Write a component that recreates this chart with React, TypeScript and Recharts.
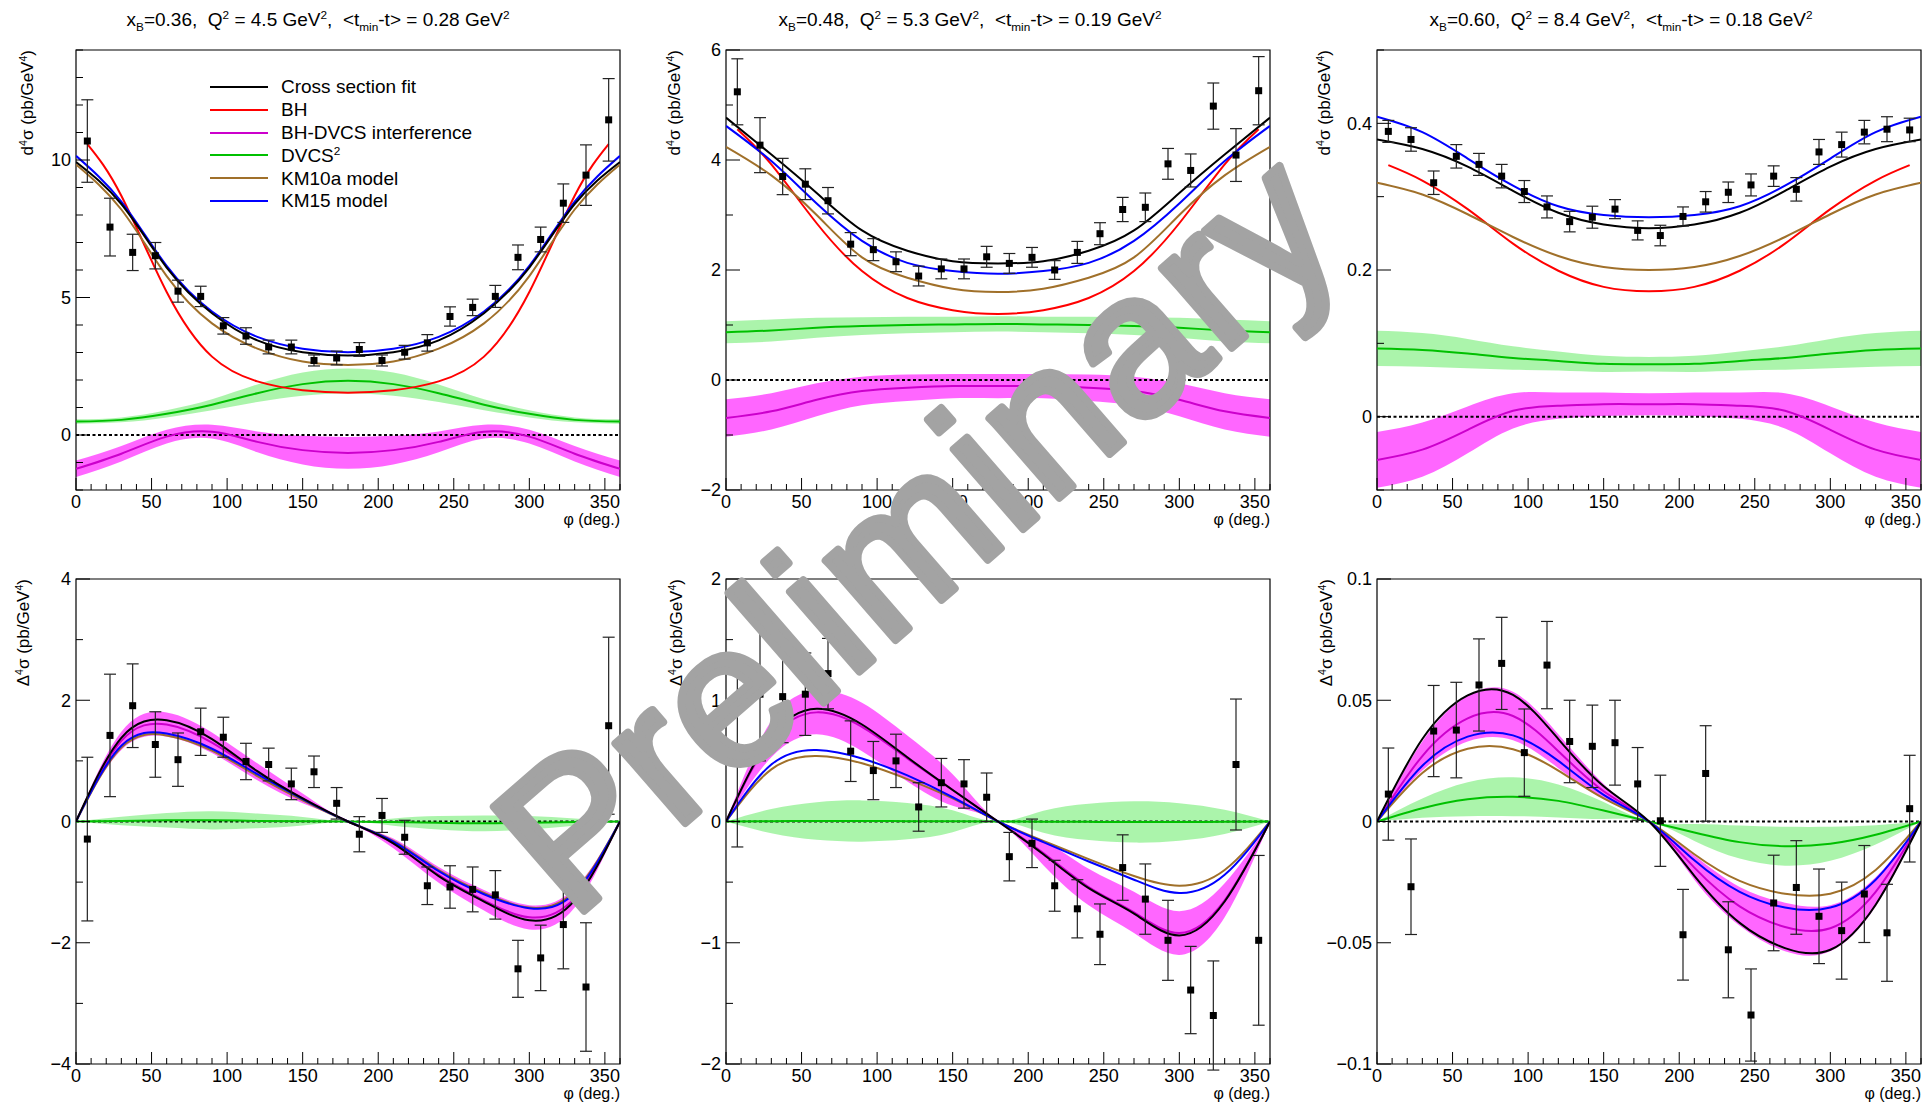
import React from "react";
import {
  ComposedChart,
  Line,
  Area,
  Scatter,
  ErrorBar,
  XAxis,
  YAxis,
  ReferenceLine,
  ReferenceArea,
} from "recharts";

const FONT = "'Liberation Sans', Arial, Helvetica, sans-serif";

// phi bin centres (deg.) of the measured points
const PHI_BINS = [
  7.5, 22.5, 37.5, 52.5, 67.5, 82.5, 97.5, 112.5, 127.5, 142.5, 157.5, 172.5,
  187.5, 202.5, 217.5, 232.5, 247.5, 262.5, 277.5, 292.5, 307.5, 322.5, 337.5, 352.5,
];
// phi values where the fit / model curves were read
const PHI_GRID = [0, 30, 60, 90, 120, 150, 180, 210, 240, 270, 300, 330, 360];
// BH only runs from the first to the last bin centre
const PHI_BH = [7.5, 30, 60, 90, 120, 150, 180, 210, 240, 270, 300, 330, 352.5];

const X_TICKS = [
  0, 10, 20, 30, 40, 50, 60, 70, 80, 90, 100, 110, 120, 130, 140, 150, 160, 170, 180,
  190, 200, 210, 220, 230, 240, 250, 260, 270, 280, 290, 300, 310, 320, 330, 340, 350, 360,
];

// ---- top row: unpolarised cross section ----
const P1_Y = [10.69, 7.56, 6.64, 6.52, 5.23, 5.04, 3.97, 3.6, 3.2, 3.2, 2.71, 2.8, 3.11, 2.71, 3.01, 3.35, 4.31, 4.64, 5.04, 6.46, 7.11, 8.43, 9.45, 11.46];
const P1_E = [1.5, 1.05, 0.66, 0.48, 0.4, 0.37, 0.3, 0.3, 0.25, 0.25, 0.2, 0.25, 0.25, 0.2, 0.25, 0.3, 0.35, 0.3, 0.4, 0.45, 0.45, 0.7, 1.1, 1.5];
const P1_FIT = [9.93, 8.4, 6.09, 4.43, 3.44, 3.01, 2.89, 3.01, 3.44, 4.43, 6.09, 8.4, 9.93];
const P1_BH = [10.58, 8.7, 5.2, 2.85, 1.95, 1.63, 1.54, 1.63, 1.95, 2.85, 5.2, 8.7, 10.58];
const P1_INT = [-1.23, -0.68, -0.06, 0.12, -0.25, -0.55, -0.65, -0.55, -0.25, 0.12, -0.06, -0.68, -1.23];
const P1_INT_ERR = [0.3, 0.28, 0.25, 0.25, 0.38, 0.52, 0.58, 0.52, 0.38, 0.25, 0.25, 0.28, 0.3];
const P1_DVCS = [0.49, 0.55, 0.77, 1.1, 1.52, 1.85, 1.97, 1.85, 1.52, 1.1, 0.77, 0.55, 0.49];
const P1_DVCS_ERR = [0.08, 0.09, 0.13, 0.2, 0.32, 0.42, 0.45, 0.42, 0.32, 0.2, 0.13, 0.09, 0.08];
const P1_KM10 = [9.84, 8.2, 5.78, 4.06, 3.14, 2.67, 2.55, 2.67, 3.14, 4.06, 5.78, 8.2, 9.84];
const P1_KM15 = [10.15, 8.49, 6.15, 4.49, 3.57, 3.14, 3.01, 3.14, 3.57, 4.49, 6.15, 8.49, 10.15];

const P2_Y = [5.24, 4.27, 3.7, 3.56, 3.26, 2.47, 2.37, 2.15, 1.89, 2.02, 2.02, 2.24, 2.12, 2.23, 2.0, 2.32, 2.66, 3.1, 3.14, 3.93, 3.81, 4.98, 4.09, 5.26];
const P2_E = [0.6, 0.5, 0.33, 0.28, 0.24, 0.21, 0.2, 0.18, 0.18, 0.18, 0.18, 0.19, 0.18, 0.18, 0.17, 0.2, 0.2, 0.22, 0.26, 0.28, 0.3, 0.42, 0.48, 0.62];
const P2_FIT = [4.77, 4.1, 3.4, 2.72, 2.35, 2.16, 2.12, 2.16, 2.35, 2.72, 3.4, 4.1, 4.77];
const P2_BH = [4.56, 3.92, 2.85, 1.98, 1.49, 1.27, 1.2, 1.27, 1.49, 1.98, 2.85, 3.92, 4.56];
const P2_INT = [-0.69, -0.57, -0.36, -0.2, -0.14, -0.11, -0.11, -0.11, -0.14, -0.2, -0.36, -0.57, -0.69];
const P2_INT_ERR = [0.34, 0.33, 0.3, 0.26, 0.24, 0.22, 0.22, 0.22, 0.24, 0.26, 0.3, 0.33, 0.34];
const P2_DVCS = [0.87, 0.9, 0.95, 0.98, 1.0, 1.01, 1.02, 1.01, 1.0, 0.98, 0.95, 0.9, 0.87];
const P2_DVCS_ERR = [0.2, 0.2, 0.18, 0.16, 0.15, 0.14, 0.14, 0.14, 0.15, 0.16, 0.18, 0.2, 0.2];
const P2_KM10 = [4.24, 3.72, 3.0, 2.23, 1.86, 1.66, 1.6, 1.66, 1.86, 2.23, 3.0, 3.72, 4.24];
const P2_KM15 = [4.62, 3.98, 3.21, 2.53, 2.13, 1.98, 1.93, 1.98, 2.13, 2.53, 3.21, 3.98, 4.62];

const P3_Y = [0.389, 0.378, 0.319, 0.355, 0.344, 0.328, 0.307, 0.286, 0.266, 0.272, 0.283, 0.254, 0.247, 0.273, 0.293, 0.306, 0.316, 0.328, 0.31, 0.361, 0.371, 0.388, 0.392, 0.391];
const P3_E = [0.015, 0.016, 0.016, 0.016, 0.015, 0.016, 0.015, 0.015, 0.014, 0.015, 0.013, 0.013, 0.014, 0.013, 0.014, 0.014, 0.015, 0.014, 0.016, 0.017, 0.017, 0.016, 0.017, 0.016];
const P3_FIT = [0.378, 0.365, 0.341, 0.308, 0.278, 0.262, 0.257, 0.262, 0.278, 0.308, 0.341, 0.365, 0.378];
const P3_BH = [0.343, 0.322, 0.283, 0.236, 0.199, 0.177, 0.171, 0.177, 0.199, 0.236, 0.283, 0.322, 0.343];
const P3_INT = [-0.059, -0.045, -0.018, 0.008, 0.015, 0.017, 0.017, 0.017, 0.015, 0.008, -0.018, -0.045, -0.059];
const P3_INT_ERR = [0.038, 0.037, 0.032, 0.024, 0.018, 0.016, 0.015, 0.016, 0.018, 0.024, 0.032, 0.037, 0.038];
const P3_DVCS = [0.093, 0.091, 0.086, 0.08, 0.076, 0.072, 0.0715, 0.072, 0.076, 0.08, 0.086, 0.091, 0.093];
const P3_DVCS_ERR = [0.024, 0.023, 0.02, 0.016, 0.013, 0.011, 0.01, 0.011, 0.013, 0.016, 0.02, 0.023, 0.024];
const P3_KM10 = [0.319, 0.303, 0.276, 0.245, 0.219, 0.204, 0.2, 0.204, 0.219, 0.245, 0.276, 0.303, 0.319];
const P3_KM15 = [0.409, 0.388, 0.352, 0.315, 0.287, 0.275, 0.272, 0.275, 0.287, 0.315, 0.352, 0.388, 0.409];

// ---- bottom row: beam-helicity difference ----
const P4_Y = [-0.29, 1.42, 1.91, 1.27, 1.02, 1.48, 1.39, 0.99, 0.94, 0.62, 0.82, 0.3, -0.21, 0.1, -0.26, -1.06, -1.08, -1.12, -1.21, -2.43, -2.25, -1.7, -2.73, 1.58];
const P4_E = [1.35, 1.01, 0.69, 0.54, 0.44, 0.39, 0.33, 0.3, 0.27, 0.26, 0.26, 0.26, 0.29, 0.28, 0.28, 0.31, 0.35, 0.37, 0.4, 0.47, 0.54, 0.73, 1.06, 1.46];
const P4_FIT = [0, 1.38, 1.67, 1.36, 0.83, 0.38, 0, -0.36, -0.9, -1.32, -1.63, -1.3, 0];
const P4_INT = [0, 1.33, 1.6, 1.3, 0.82, 0.38, 0, -0.36, -0.88, -1.3, -1.58, -1.26, 0];
const P4_INT_ERR = [0, 0.15, 0.2, 0.17, 0.14, 0.08, 0, 0.08, 0.13, 0.17, 0.2, 0.16, 0];
const P4_DVCS = [0, 0.01, 0.02, 0.02, 0.01, 0.005, 0, -0.01, -0.02, -0.03, -0.02, -0.01, 0];
const P4_DVCS_ERR = [0, 0.07, 0.12, 0.15, 0.12, 0.07, 0, 0.06, 0.11, 0.13, 0.11, 0.06, 0];
const P4_KM10 = [0, 1.22, 1.42, 1.17, 0.75, 0.35, 0, -0.32, -0.8, -1.18, -1.42, -1.15, 0];
const P4_KM15 = [0, 1.25, 1.45, 1.2, 0.78, 0.37, 0, -0.33, -0.82, -1.2, -1.43, -1.18, 0];

const P5_Y = [0.5, 1.05, 1.03, 1.05, 1.22, 0.58, 0.42, 0.5, 0.12, 0.32, 0.31, 0.2, -0.29, -0.18, -0.53, -0.72, -0.93, -0.38, -0.64, -0.98, -1.39, -1.6, 0.47, -0.98];
const P5_E = [0.71, 0.55, 0.38, 0.34, 0.29, 0.25, 0.24, 0.22, 0.2, 0.2, 0.2, 0.2, 0.2, 0.2, 0.21, 0.24, 0.25, 0.27, 0.29, 0.33, 0.36, 0.45, 0.54, 0.7];
const P5_FIT = [0, 0.7, 0.93, 0.8, 0.53, 0.26, 0, -0.27, -0.55, -0.76, -0.94, -0.66, 0];
const P5_INT = [0, 0.68, 0.9, 0.78, 0.52, 0.26, 0, -0.26, -0.54, -0.75, -0.92, -0.65, 0];
const P5_INT_ERR = [0, 0.15, 0.18, 0.2, 0.19, 0.13, 0, 0.1, 0.15, 0.17, 0.18, 0.14, 0];
const P5_DVCS = [0, 0.003, 0.004, 0.004, 0.003, 0.002, 0, -0.002, -0.003, -0.004, -0.004, -0.003, 0];
const P5_DVCS_ERR = [0, 0.1, 0.155, 0.17, 0.15, 0.09, 0, 0.09, 0.15, 0.17, 0.155, 0.1, 0];
const P5_KM10 = [0, 0.43, 0.54, 0.48, 0.35, 0.19, 0, -0.16, -0.31, -0.45, -0.53, -0.4, 0];
const P5_KM15 = [0, 0.47, 0.59, 0.52, 0.38, 0.2, 0, -0.17, -0.33, -0.48, -0.59, -0.44, 0];

const P6_Y = [0.0113, -0.0269, 0.0373, 0.0377, 0.0563, 0.0652, 0.0284, 0.0645, 0.033, 0.031, 0.0325, 0.0155, 0.0003, -0.0467, 0.0198, -0.0529, -0.0798, -0.0336, -0.0272, -0.0391, -0.045, -0.0299, -0.0459, 0.0053];
const P6_E = [0.019, 0.0197, 0.0188, 0.0197, 0.019, 0.019, 0.018, 0.018, 0.017, 0.017, 0.0175, 0.015, 0.0188, 0.0187, 0.0197, 0.0198, 0.019, 0.0197, 0.0193, 0.0195, 0.02, 0.02, 0.02, 0.022];
const P6_FIT = [0, 0.034, 0.052, 0.0522, 0.034, 0.0145, 0, -0.0224, -0.0418, -0.0522, -0.0529, -0.0343, 0];
const P6_INT = [0, 0.027, 0.0425, 0.0435, 0.029, 0.0125, 0, -0.019, -0.035, -0.0435, -0.044, -0.029, 0];
const P6_INT_ERR = [0, 0.006, 0.0095, 0.01, 0.007, 0.003, 0, 0.005, 0.008, 0.01, 0.0095, 0.006, 0];
const P6_DVCS = [0, 0.0055, 0.0092, 0.0102, 0.0085, 0.0045, 0, -0.0045, -0.0085, -0.0102, -0.0092, -0.0055, 0];
const P6_DVCS_ERR = [0, 0.004, 0.007, 0.008, 0.0068, 0.0035, 0, 0.0035, 0.0068, 0.008, 0.007, 0.004, 0];
const P6_KM10 = [0, 0.02, 0.03, 0.0298, 0.021, 0.0095, 0, -0.0135, -0.0245, -0.0298, -0.0298, -0.02, 0];
const P6_KM15 = [0, 0.023, 0.035, 0.0355, 0.025, 0.011, 0, -0.016, -0.029, -0.0355, -0.0355, -0.024, 0];

// y ticks (all) and the labelled ones
const P1_TICKS = [-2, -1, 0, 1, 2, 3, 4, 5, 6, 7, 8, 9, 10, 11, 12, 13, 14];
const P2_TICKS = [-2, -1, 0, 1, 2, 3, 4, 5, 6];
const P3_TICKS = [-0.1, 0, 0.1, 0.2, 0.3, 0.4, 0.5];
const P4_TICKS = [-4, -3, -2, -1, 0, 1, 2, 3, 4];
const P5_TICKS = [-2, -1.5, -1, -0.5, 0, 0.5, 1, 1.5, 2];
const P6_TICKS = [-0.1, -0.05, 0, 0.05, 0.1];

const TITLE_XB = ["0.36", "0.48", "0.60"];
const TITLE_Q2 = ["4.5", "5.3", "8.4"];
const TITLE_T = ["0.28", "0.19", "0.18"];

const LEGEND_LABELS = ["Cross section fit", "BH", "BH-DVCS interference", "DVCS", "KM10a model", "KM15 model"];

const C_FIT = "#000000";
const C_BH = "#ff0000";
const C_INT = "#cc00cc";
const C_INT_BAND = "#ff00ff";
const C_DVCS = "#00c000";
const C_DVCS_BAND = "#00dd00";
const C_KM10 = "#a0702a";
const C_KM15 = "#0000ff";
const LEGEND_COLORS = [C_FIT, C_BH, C_INT, C_DVCS, C_KM10, C_KM15];

// frame geometry (page pixels)
const FRAME_LEFT = [76, 726, 1377];
const FRAME_W = 544;
const ROW_TOP = [50, 579];
const ROW_H = [440, 485];
const TITLE_CX = [318, 970, 1621];
const YLABEL_X = [
  [28, 675, 1325],
  [24, 677, 1327],
];

type PanelCfg = {
  col: number;
  row: number;
  yDomain: [number, number];
  yTicks: number[];
  yMajors: number[];
  pts: number[];
  errs: number[];
  fit: number[];
  bh?: number[];
  int: number[];
  intErr: number[];
  dvcs: number[];
  dvcsErr: number[];
  km10: number[];
  km15: number[];
};

const PANELS: PanelCfg[] = [
  { col: 0, row: 0, yDomain: [-2, 14], yTicks: P1_TICKS, yMajors: [0, 5, 10], pts: P1_Y, errs: P1_E, fit: P1_FIT, bh: P1_BH, int: P1_INT, intErr: P1_INT_ERR, dvcs: P1_DVCS, dvcsErr: P1_DVCS_ERR, km10: P1_KM10, km15: P1_KM15 },
  { col: 1, row: 0, yDomain: [-2, 6], yTicks: P2_TICKS, yMajors: [-2, 0, 2, 4, 6], pts: P2_Y, errs: P2_E, fit: P2_FIT, bh: P2_BH, int: P2_INT, intErr: P2_INT_ERR, dvcs: P2_DVCS, dvcsErr: P2_DVCS_ERR, km10: P2_KM10, km15: P2_KM15 },
  { col: 2, row: 0, yDomain: [-0.1, 0.5], yTicks: P3_TICKS, yMajors: [0, 0.2, 0.4], pts: P3_Y, errs: P3_E, fit: P3_FIT, bh: P3_BH, int: P3_INT, intErr: P3_INT_ERR, dvcs: P3_DVCS, dvcsErr: P3_DVCS_ERR, km10: P3_KM10, km15: P3_KM15 },
  { col: 0, row: 1, yDomain: [-4, 4], yTicks: P4_TICKS, yMajors: [-4, -2, 0, 2, 4], pts: P4_Y, errs: P4_E, fit: P4_FIT, int: P4_INT, intErr: P4_INT_ERR, dvcs: P4_DVCS, dvcsErr: P4_DVCS_ERR, km10: P4_KM10, km15: P4_KM15 },
  { col: 1, row: 1, yDomain: [-2, 2], yTicks: P5_TICKS, yMajors: [-2, -1, 0, 1, 2], pts: P5_Y, errs: P5_E, fit: P5_FIT, int: P5_INT, intErr: P5_INT_ERR, dvcs: P5_DVCS, dvcsErr: P5_DVCS_ERR, km10: P5_KM10, km15: P5_KM15 },
  { col: 2, row: 1, yDomain: [-0.1, 0.1], yTicks: P6_TICKS, yMajors: P6_TICKS, pts: P6_Y, errs: P6_E, fit: P6_FIT, int: P6_INT, intErr: P6_INT_ERR, dvcs: P6_DVCS, dvcsErr: P6_DVCS_ERR, km10: P6_KM10, km15: P6_KM15 },
];

const curveRows = (vals: number[], grid: number[] = PHI_GRID) =>
  grid.map((phi, i) => ({ phi, v: vals[i] }));
const bandRows = (mid: number[], half: number[]) =>
  PHI_GRID.map((phi, i) => ({ phi, band: [mid[i] - half[i], mid[i] + half[i]] }));
const pointRows = (y: number[], e: number[]) =>
  PHI_BINS.map((phi, i) => ({ phi, y: y[i], err: e[i] }));

const fmt = (v: number) => (v < 0 ? "\u2212" : "") + String(Math.abs(v));

const XTick = (props: any) => {
  const { x, y, payload } = props;
  const v = payload.value;
  const major = v % 50 === 0;
  return (
    <g>
      <line x1={x} x2={x} y1={y} y2={y - (major ? 12 : 6)} stroke="#000" strokeWidth={1} />
      {major && v < 360 && (
        <text x={x} y={y + 18} textAnchor="middle" fontSize={18} fontFamily={FONT} fill="#000">
          {v}
        </text>
      )}
    </g>
  );
};

const YTick = (props: any) => {
  const { x, y, payload, majors } = props;
  const v = payload.value;
  const major = majors.includes(v);
  return (
    <g>
      <line x1={x} x2={x + (major ? 14 : 7)} y1={y} y2={y} stroke="#000" strokeWidth={1} />
      {major && (
        <text x={x - 5} y={y} dy="0.35em" textAnchor="end" fontSize={18} fontFamily={FONT} fill="#000">
          {fmt(v)}
        </text>
      )}
    </g>
  );
};

const Square = (props: any) => (
  <rect x={props.cx - 3.5} y={props.cy - 3.5} width={7} height={7} fill="#000" />
);

const sup = (t: string) => (
  <sup style={{ fontSize: "0.62em", verticalAlign: "0.6em", lineHeight: 0 }}>{t}</sup>
);
const sub = (t: string) => (
  <sub style={{ fontSize: "0.62em", verticalAlign: "-0.4em", lineHeight: 0 }}>{t}</sub>
);

const YW = 70;
const MT = 14;
const MR = 3;
const XH = 34;

function Panel({ p }: { p: PanelCfg }) {
  const h = ROW_H[p.row];
  const left = FRAME_LEFT[p.col];
  const top = ROW_TOP[p.row];
  const lineProps = { type: "natural" as const, dot: false, activeDot: false, strokeWidth: 2, isAnimationActive: false, dataKey: "v" };
  return (
    <>
      <div style={{ position: "absolute", left: left - YW, top: top - MT }}>
        <ComposedChart width={YW + FRAME_W + MR} height={MT + h + XH} margin={{ top: MT, right: MR, bottom: 0, left: 0 }}>
          <XAxis
            type="number"
            dataKey="phi"
            domain={[0, 360]}
            ticks={X_TICKS}
            interval={0}
            allowDataOverflow
            axisLine={false}
            tickLine={false}
            tickSize={0}
            tickMargin={0}
            height={XH}
            tick={XTick}
          />
          <YAxis
            type="number"
            domain={p.yDomain}
            ticks={p.yTicks}
            interval={0}
            allowDataOverflow
            axisLine={false}
            tickLine={false}
            tickSize={0}
            tickMargin={0}
            width={YW}
            tick={(t: any) => <YTick {...t} majors={p.yMajors} />}
          />
          <Area data={bandRows(p.dvcs, p.dvcsErr)} dataKey="band" type="natural" stroke="none" fill={C_DVCS_BAND} fillOpacity={0.33} isAnimationActive={false} />
          <Area data={bandRows(p.int, p.intErr)} dataKey="band" type="natural" stroke="none" fill={C_INT_BAND} fillOpacity={0.6} isAnimationActive={false} />
          <ReferenceLine y={0} stroke="#000" strokeDasharray="3 2.5" strokeWidth={2} />
          <Line data={curveRows(p.dvcs)} stroke={C_DVCS} {...lineProps} />
          <Line data={curveRows(p.int)} stroke={C_INT} {...lineProps} />
          {p.bh && <Line data={curveRows(p.bh, PHI_BH)} stroke={C_BH} {...lineProps} />}
          <Line data={curveRows(p.km10)} stroke={C_KM10} {...lineProps} />
          <Line data={curveRows(p.km15)} stroke={C_KM15} {...lineProps} />
          <Line data={curveRows(p.fit)} stroke={C_FIT} {...lineProps} />
          <Scatter data={pointRows(p.pts, p.errs)} dataKey="y" shape={Square} isAnimationActive={false}>
            <ErrorBar dataKey="err" direction="y" width={6} stroke="#222" strokeWidth={1.2} />
          </Scatter>
          <ReferenceArea x1={0} x2={360} y1={p.yDomain[0]} y2={p.yDomain[1]} fill="none" fillOpacity={0} stroke="#000" strokeWidth={1.2} ifOverflow="visible" />
        </ComposedChart>
      </div>
      {/* x axis title */}
      <div
        style={{
          position: "absolute",
          left: left + FRAME_W - 200,
          width: 200,
          top: top + h + 21,
          textAlign: "right",
          fontSize: 16,
          lineHeight: "18px",
        }}
      >
        φ (deg.)
      </div>
      {/* y axis title, rotated, ending at the frame top */}
      <div
        style={{
          position: "absolute",
          left: YLABEL_X[p.row][p.col],
          top: top,
          transformOrigin: "100% 50%",
          transform: "translate(-100%, -50%) rotate(-90deg)",
          fontSize: 17,
          lineHeight: "20px",
          whiteSpace: "nowrap",
        }}
      >
        {p.row === 0 ? "d" : "\u0394"}
        {sup("4")}σ (pb/GeV{sup("4")})
      </div>
      {p.row === 0 && (
        <div
          style={{
            position: "absolute",
            left: TITLE_CX[p.col],
            top: 9,
            transform: "translateX(-50%)",
            fontSize: 19,
            lineHeight: "22px",
            whiteSpace: "nowrap",
          }}
        >
          x{sub("B")}={TITLE_XB[p.col]},{"\u00a0 "}Q{sup("2")} = {TITLE_Q2[p.col]} GeV{sup("2")},{"\u00a0 "}&lt;t
          {sub("min")}-t&gt; = {TITLE_T[p.col]} GeV{sup("2")}
        </div>
      )}
    </>
  );
}

function Legend() {
  return (
    <>
      {LEGEND_LABELS.map((label, i) => {
        const cy = 86.7 + 22.9 * i;
        return (
          <React.Fragment key={label}>
            <div style={{ position: "absolute", left: 210, top: cy - 1, width: 58, height: 2, background: LEGEND_COLORS[i] }} />
            <div style={{ position: "absolute", left: 281, top: cy - 10.8, fontSize: 19, lineHeight: "22px", whiteSpace: "nowrap" }}>
              {label}
              {label === "DVCS" && sup("2")}
            </div>
          </React.Fragment>
        );
      })}
    </>
  );
}

export default function App() {
  return (
    <div
      style={{
        position: "absolute",
        left: 0,
        top: 0,
        width: 1929,
        height: 1105,
        background: "#fff",
        fontFamily: FONT,
        color: "#000",
        overflow: "hidden",
      }}
    >
      {PANELS.map((p, i) => (
        <Panel key={i} p={p} />
      ))}
      <Legend />
      <svg width={1929} height={1105} style={{ position: "absolute", left: 0, top: 0, pointerEvents: "none" }}>
        <text
          x={916}
          y={530}
          textAnchor="middle"
          dominantBaseline="central"
          transform="rotate(-41 916 530)"
          fontSize={200}
          letterSpacing={3}
          fontFamily={FONT}
          fill="#a3a3a3"
          stroke="#a3a3a3"
          strokeWidth={8}
          strokeLinejoin="round"
          strokeLinecap="round"
        >
          Preliminary
        </text>
      </svg>
    </div>
  );
}
